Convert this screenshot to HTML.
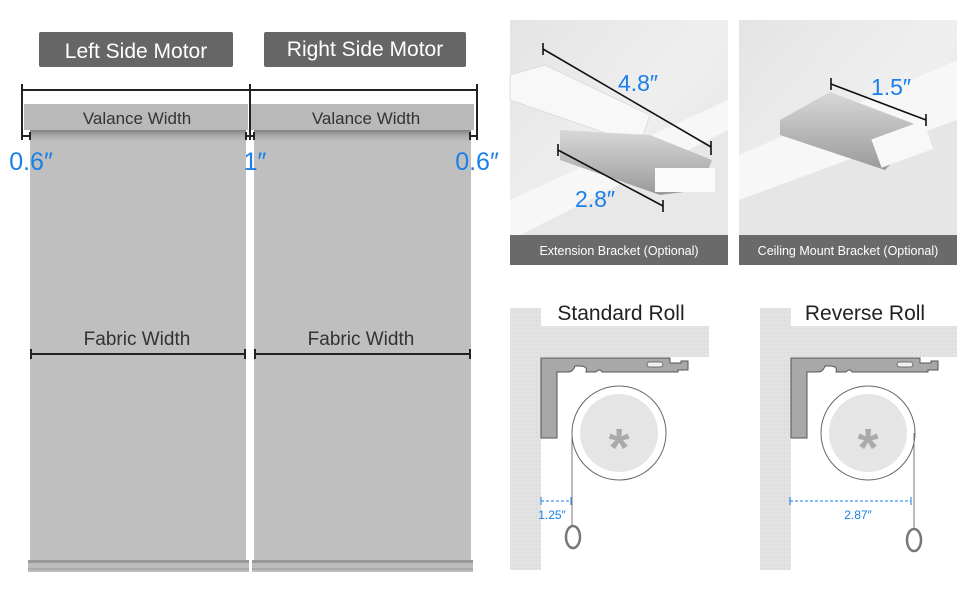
<!DOCTYPE html>
<html><head><meta charset="utf-8"><style>
html,body{margin:0;padding:0;background:#fff;width:970px;height:600px;overflow:hidden}
text{font-family:"Liberation Sans","DejaVu Sans",sans-serif}
</style></head><body>
<svg width="970" height="600" viewBox="0 0 970 600" xmlns="http://www.w3.org/2000/svg">
<defs>
<linearGradient id="sh" x1="0" y1="0" x2="0" y2="1"><stop offset="0" stop-color="#555" stop-opacity=".6"/><stop offset="1" stop-color="#bdbdbd" stop-opacity="0"/></linearGradient>
<linearGradient id="p1" x1="0" y1="0" x2="1" y2="1"><stop offset="0" stop-color="#e4e4e4"/><stop offset=".5" stop-color="#efefef"/><stop offset="1" stop-color="#dedede"/></linearGradient>
<linearGradient id="met" x1="0" y1="0" x2="0" y2="1"><stop offset="0" stop-color="#d8d8d8"/><stop offset="1" stop-color="#9a9a9a"/></linearGradient>
<pattern id="hatch" width="4" height="4" patternUnits="userSpaceOnUse"><rect width="4" height="4" fill="#e2e2e2"/><rect width="1" height="1" fill="#d4d4d4"/></pattern>
</defs>
<rect x="39" y="32" width="194" height="35" rx="2" fill="#666"/>
<text x="136" y="58" font-size="21" fill="#fff" text-anchor="middle">Left Side Motor</text>
<rect x="264" y="32" width="202" height="35" rx="2" fill="#666"/>
<text x="365" y="56" font-size="21" fill="#fff" text-anchor="middle">Right Side Motor</text>
<rect x="30" y="128" width="216" height="432" fill="#bfbfbf"/>
<rect x="254" y="128" width="217" height="432" fill="#bfbfbf"/>
<rect x="30" y="130" width="216" height="14" fill="url(#sh)"/>
<rect x="254" y="130" width="217" height="14" fill="url(#sh)"/>
<rect x="24" y="104" width="224" height="26" fill="#b9b9b9"/>
<rect x="250" y="104" width="224" height="26" fill="#b9b9b9"/>
<text x="137" y="124" font-size="17" fill="#333" text-anchor="middle">Valance Width</text>
<text x="366" y="124" font-size="17" fill="#333" text-anchor="middle">Valance Width</text>
<g stroke="#222" stroke-width="2" fill="none">
<line x1="22" y1="90" x2="477" y2="90"/>
<line x1="22" y1="84" x2="22" y2="140"/><line x1="250" y1="84" x2="250" y2="140"/><line x1="477" y1="84" x2="477" y2="140"/>
<line x1="22" y1="136" x2="30" y2="136"/><line x1="30" y1="132" x2="30" y2="140"/>
<line x1="246" y1="136" x2="254" y2="136"/><line x1="246" y1="132" x2="246" y2="140"/><line x1="254" y1="132" x2="254" y2="140"/>
<line x1="470" y1="136" x2="477" y2="136"/><line x1="470" y1="132" x2="470" y2="140"/>
<line x1="31" y1="354" x2="245" y2="354"/><line x1="31" y1="349" x2="31" y2="359"/><line x1="245" y1="349" x2="245" y2="359"/>
<line x1="255" y1="354" x2="470" y2="354"/><line x1="255" y1="349" x2="255" y2="359"/><line x1="470" y1="349" x2="470" y2="359"/>
</g>
<text x="31" y="170" font-size="25" fill="#1a7fe8" text-anchor="middle">0.6″</text>
<text x="255" y="170" font-size="25" fill="#1a7fe8" text-anchor="middle">1″</text>
<text x="477" y="170" font-size="25" fill="#1a7fe8" text-anchor="middle">0.6″</text>
<text x="137" y="345" font-size="19" fill="#333" text-anchor="middle">Fabric Width</text>
<text x="361" y="345" font-size="19" fill="#333" text-anchor="middle">Fabric Width</text>
<rect x="28" y="560" width="221" height="12" fill="#bdbdbd"/><rect x="28" y="560" width="221" height="3" fill="#999"/><rect x="28" y="568" width="221" height="2" fill="#aaa"/>
<rect x="252" y="560" width="221" height="12" fill="#bdbdbd"/><rect x="252" y="560" width="221" height="3" fill="#999"/><rect x="252" y="568" width="221" height="2" fill="#aaa"/>

<rect x="510" y="20" width="218" height="245" fill="url(#p1)"/>
<polygon points="510,200 728,100 728,130 510,240" fill="#f7f7f7"/>
<polygon points="510,240 728,130 728,265 510,265" fill="#e8e8e8"/>
<polygon points="510,75 545,65 650,115 640,145 510,100" fill="#f8f8f8" stroke="#ddd"/>
<polygon points="560,130 650,135 712,160 700,190 660,195 560,160" fill="url(#met)"/>
<rect x="655" y="168" width="60" height="24" fill="#fafafa"/>
<g stroke="#111" stroke-width="1.6"><line x1="543" y1="49" x2="711" y2="147"/><line x1="543" y1="43" x2="543" y2="55"/><line x1="711" y1="141" x2="711" y2="155"/>
<line x1="558" y1="150" x2="663" y2="206"/><line x1="558" y1="144" x2="558" y2="156"/><line x1="663" y1="200" x2="663" y2="212"/></g>
<text x="638" y="91" font-size="23" fill="#1a7fe8" text-anchor="middle">4.8″</text>
<text x="595" y="207" font-size="23" fill="#1a7fe8" text-anchor="middle">2.8″</text>
<rect x="510" y="235" width="218" height="30" fill="#6a6a6a"/>
<text x="619" y="255" font-size="12.5" fill="#fff" text-anchor="middle">Extension Bracket (Optional)</text>
<rect x="739" y="20" width="218" height="245" fill="url(#p1)"/>
<polygon points="739,155 957,60 957,120 739,200" fill="#f7f7f7"/>
<polygon points="739,200 957,120 957,265 739,265" fill="#e6e6e6"/>
<polygon points="780,120 830,92 925,128 885,170 780,135" fill="url(#met)"/>
<rect x="875" y="130" width="55" height="30" fill="#f8f8f8" transform="rotate(-20 900 145)"/>
<g stroke="#111" stroke-width="1.6"><line x1="831" y1="84" x2="926" y2="120"/><line x1="831" y1="78" x2="831" y2="90"/><line x1="926" y1="114" x2="926" y2="126"/></g>
<text x="891" y="95" font-size="23" fill="#1a7fe8" text-anchor="middle">1.5″</text>
<rect x="739" y="235" width="218" height="30" fill="#6a6a6a"/>
<text x="848" y="255" font-size="12.5" fill="#fff" text-anchor="middle">Ceiling Mount Bracket (Optional)</text>

<g>
<rect x="510" y="308" width="31" height="262" fill="url(#hatch)"/>
<rect x="541" y="326" width="168" height="31" fill="url(#hatch)"/>
<path d="M541,358 H670 V363 H681 V361 H688 V370 H678 V372 H602 Q600,368 596,372 H586 Q588,366 580,366 H575 Q573,372 568,372 H557 V438 H541 Z" fill="#a8a8a8" stroke="#555" stroke-width="1"/>
<rect x="647" y="362" width="16" height="5" rx="2.5" fill="#eee" stroke="#555" stroke-width=".8"/>
<circle cx="619" cy="433" r="47" fill="#fff" stroke="#666" stroke-width="1"/>
<circle cx="619" cy="433" r="39" fill="#e5e5e5"/>
<text x="619" y="466" font-size="54" font-weight="bold" fill="#aaa" text-anchor="middle">*</text>
<line x1="572" y1="433" x2="572" y2="525" stroke="#777" stroke-width="1"/>
<ellipse cx="573" cy="537" rx="7" ry="11" fill="none" stroke="#777" stroke-width="2.5"/>
<g stroke="#1a7fe8" stroke-width="1"><line x1="541" y1="501" x2="571" y2="501" stroke-dasharray="3,2"/><line x1="541" y1="497" x2="541" y2="505"/><line x1="571" y1="497" x2="571" y2="505"/></g>
<text x="552" y="519" font-size="12" fill="#1a7fe8" text-anchor="middle">1.25″</text>
<text x="621" y="320" font-size="21" fill="#222" text-anchor="middle">Standard Roll</text>
</g>
<g>
<rect x="760" y="308" width="31" height="262" fill="url(#hatch)"/>
<rect x="791" y="326" width="166" height="31" fill="url(#hatch)"/>
<path d="M791,358 H920 V363 H931 V361 H938 V370 H928 V372 H852 Q850,368 846,372 H836 Q838,366 830,366 H825 Q823,372 818,372 H807 V438 H791 Z" fill="#a8a8a8" stroke="#555" stroke-width="1"/>
<rect x="897" y="362" width="16" height="5" rx="2.5" fill="#eee" stroke="#555" stroke-width=".8"/>
<circle cx="868" cy="433" r="47" fill="#fff" stroke="#666" stroke-width="1"/>
<circle cx="868" cy="433" r="39" fill="#e5e5e5"/>
<text x="868" y="466" font-size="54" font-weight="bold" fill="#aaa" text-anchor="middle">*</text>
<line x1="914" y1="433" x2="914" y2="528" stroke="#777" stroke-width="1"/>
<ellipse cx="914" cy="540" rx="7" ry="11" fill="none" stroke="#777" stroke-width="2.5"/>
<g stroke="#1a7fe8" stroke-width="1"><line x1="790" y1="501" x2="911" y2="501" stroke-dasharray="3,2"/><line x1="790" y1="497" x2="790" y2="505"/><line x1="911" y1="497" x2="911" y2="505"/></g>
<text x="858" y="519" font-size="12" fill="#1a7fe8" text-anchor="middle">2.87″</text>
<text x="865" y="320" font-size="21" fill="#222" text-anchor="middle">Reverse Roll</text>
</g>
</svg>
</body></html>
